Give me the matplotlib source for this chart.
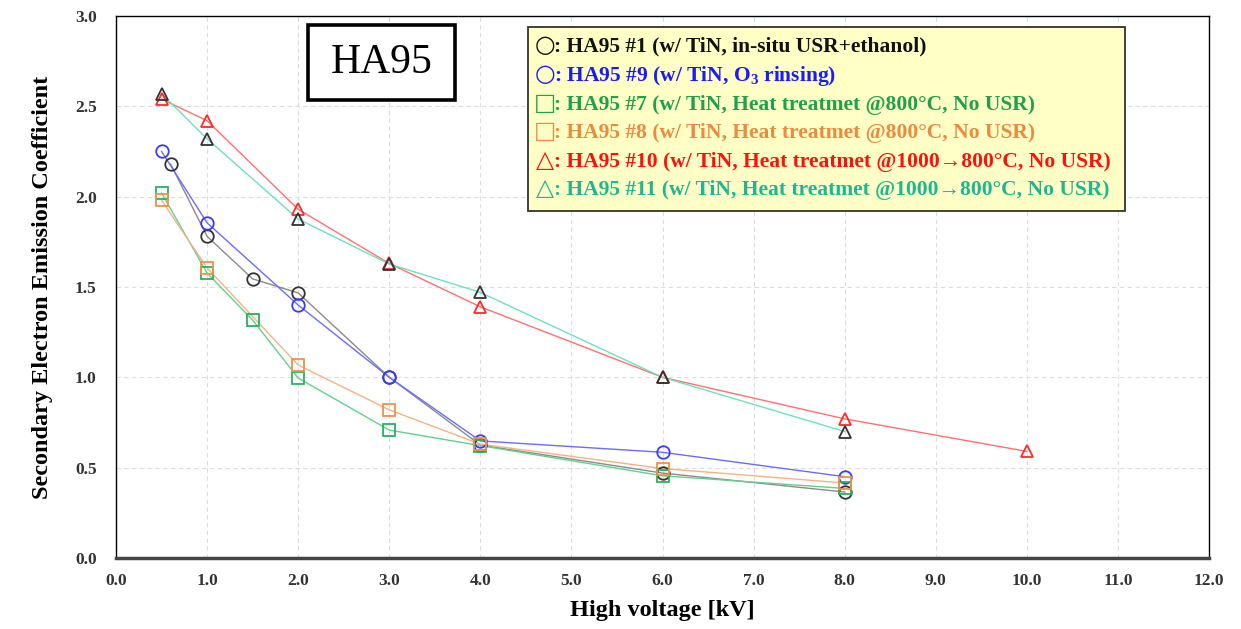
import matplotlib
matplotlib.use("Agg")
import matplotlib.pyplot as plt
from matplotlib.patches import Rectangle

plt.rcParams['font.family'] = ['Liberation Serif', 'DejaVu Serif']
plt.rcParams['mathtext.fontset'] = 'custom'
plt.rcParams['mathtext.rm'] = 'Liberation Serif:bold'
plt.rcParams['mathtext.bf'] = 'Liberation Serif:bold'
plt.rcParams['mathtext.default'] = 'bf'

# Secondary electron emission coefficient vs. primary beam voltage
x1 = [0.6, 1.0, 1.5, 2.0, 3.0, 4.0, 6.0, 8.0]
y1 = [2.18, 1.78, 1.545, 1.467, 1.0, 0.625, 0.47, 0.365]
x9 = [0.5, 1.0, 2.0, 3.0, 4.0, 6.0, 8.0]
y9 = [2.25, 1.855, 1.40, 1.0, 0.648, 0.585, 0.45]
x7 = [0.5, 1.0, 1.5, 2.0, 3.0, 4.0, 6.0, 8.0]
y7 = [2.02, 1.577, 1.317, 0.996, 0.708, 0.622, 0.455, 0.385]
x8 = [0.5, 1.0, 2.0, 3.0, 4.0, 6.0, 8.0]
y8 = [1.98, 1.605, 1.068, 0.82, 0.63, 0.495, 0.415]
x10 = [0.5, 1.0, 2.0, 3.0, 4.0, 6.0, 8.0, 10.0]
y10 = [2.54, 2.42, 1.93, 1.63, 1.39, 1.0, 0.77, 0.59]
x11 = [0.5, 1.0, 2.0, 3.0, 4.0, 6.0, 8.0]
y11 = [2.57, 2.32, 1.876, 1.627, 1.47, 1.0, 0.70]

symbols = ["○", "○", "□", "□", "△", "△"]
labels = [
    ": HA95 #1 (w/ TiN, in-situ USR+ethanol)",
    ": HA95 #9 (w/ TiN, O$_3$ rinsing)",
    ": HA95 #7 (w/ TiN, Heat treatmet @800°C, No USR)",
    ": HA95 #8 (w/ TiN, Heat treatmet @800°C, No USR)",
    ": HA95 #10 (w/ TiN, Heat treatmet @1000→800°C, No USR)",
    ": HA95 #11 (w/ TiN, Heat treatmet @1000→800°C, No USR)",
]
label_colors = ["#111111", "#1a1aff", "#1fa04c", "#ec8a40", "#ff1010", "#1ab894"]

xticks = [0, 1, 2, 3, 4, 5, 6, 7, 8, 9, 10, 11, 12]
yticks = [0.0, 0.5, 1.0, 1.5, 2.0, 2.5, 3.0]

fig = plt.figure(figsize=(12.41, 6.29), dpi=100)
ax = fig.add_axes([0.0935, 0.1129, 0.8807, 0.8617])

series = [
    (x1, y1, "o", "#8a8a8a", "#333333"),
    (x9, y9, "o", "#6b6bff", "#3a3aff"),
    (x7, y7, "s", "#62d08e", "#2ab060"),
    (x8, y8, "s", "#f6b283", "#f0914a"),
    (x10, y10, "^", "#ff7070", "#ff2a2a"),
    (x11, y11, "^", "#6fe0bf", "#333333"),
]
for xs, ys, mk, lc, mc in series:
    ax.plot(xs, ys, color=lc, lw=1.0, zorder=2)
    ax.plot(xs, ys, linestyle="none", marker=mk, ms=9, mfc="none",
            mec=mc, mew=1.3, zorder=3)

ax.set_xlim(0, 12)
ax.set_ylim(0, 3.0)
ax.set_xticks(xticks)
ax.set_yticks(yticks)
ax.set_xticklabels([f"{v:.1f}" for v in xticks])
ax.set_yticklabels([f"{v:.1f}" for v in yticks])
ax.tick_params(axis="y", length=0, labelsize=12.5, pad=14)
ax.tick_params(axis="x", length=0, labelsize=12.5, pad=11)
for lab in ax.get_xticklabels() + ax.get_yticklabels():
    lab.set_fontweight("bold")
    lab.set_color("#333333")
ax.grid(True, color="#dddddd", linestyle=(0, (4, 3)), lw=0.8)
ax.set_axisbelow(True)
for s in ["left", "right", "top"]:
    ax.spines[s].set_linewidth(1.0)
ax.spines["bottom"].set_linewidth(2.5)
ax.spines["bottom"].set_color("#444444")

ax.set_xlabel("High voltage [kV]", fontsize=17.5, fontweight="bold", labelpad=8)
ax.set_ylabel("Secondary Electron Emission Coefficient", fontsize=17.5,
              fontweight="bold", labelpad=16)

# Sample name box
ax.add_patch(Rectangle((0.1757, 0.845), 0.134, 0.138, transform=ax.transAxes,
                       fill=True, facecolor="white", edgecolor="black",
                       lw=2.6, zorder=5))
ax.text(0.2427, 0.913, "HA95", transform=ax.transAxes, fontsize=30,
        ha="center", va="center", zorder=6)

# Legend box
ax.add_patch(Rectangle((0.377, 0.640), 0.546, 0.340, transform=ax.transAxes,
                       facecolor="#ffffc6", edgecolor="#333333", lw=1.3,
                       zorder=5))
line_px = [47, 76, 105, 133, 162, 190]
for sym, lab, col, py in zip(symbols, labels, label_colors, line_px):
    yy = (558 - py) / 542
    ax.text((545 - 116) / 1093, yy + 0.004, sym, transform=ax.transAxes,
            fontsize=17, color=col, ha="center", va="center",
            family=["DejaVu Sans"], zorder=6)
    ax.text((554 - 116) / 1093, yy, lab, transform=ax.transAxes,
            fontsize=15.5, fontweight="bold", color=col, ha="left",
            va="center", zorder=6)

fig.savefig("out.png", dpi=100)
